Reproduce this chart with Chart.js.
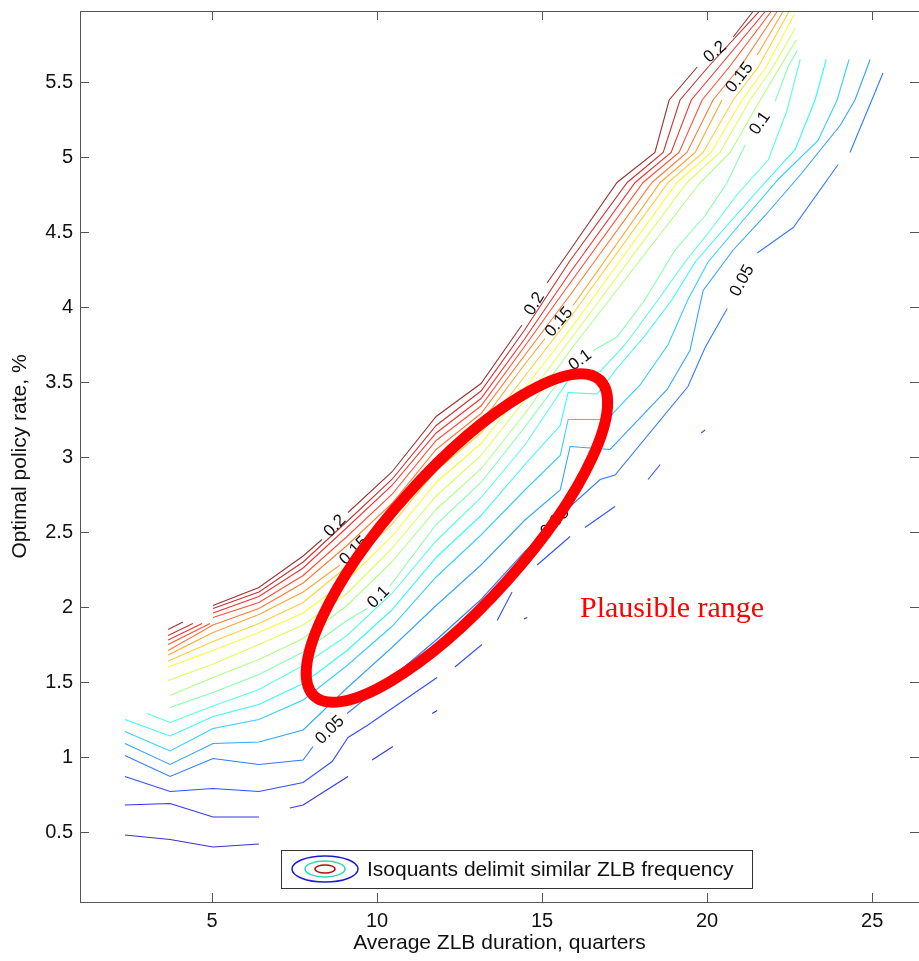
<!DOCTYPE html>
<html>
<head>
<meta charset="utf-8">
<script src="https://cdn.jsdelivr.net/npm/chart.js@4.4.0/dist/chart.umd.min.js"></script>
<style>
    html, body { margin: 0; padding: 0; background: #fff; }
</style>
</head>
<body>
<canvas id="dashboard" width="919" height="961"></canvas>
<script>
// eixos
const ticksX = [5, 10, 15, 20, 25];
const ticksY = [0.5, 1, 1.5, 2, 2.5, 3, 3.5, 4, 4.5, 5, 5.5];

// niveis das isoquantas (frequencia de ZLB)
const niveis = [0.02, 0.03, 0.04, 0.05, 0.06, 0.07, 0.08, 0.09, 0.10, 0.11, 0.12, 0.13, 0.14, 0.15, 0.16, 0.17, 0.18, 0.19, 0.20];

// cada isoquanta = lista de trechos [x, y]
const iso002 = [
    [[2.36, 0.48], [3.73, 0.45], [5.03, 0.40], [6.42, 0.42]]
];
const iso003 = [
    [[2.36, 0.68], [3.73, 0.69], [5.03, 0.60], [6.42, 0.60]],
    [[7.36, 0.66], [7.76, 0.68], [9.12, 0.87]],
    [[9.85, 0.98], [10.48, 1.07]],
    [[11.67, 1.29], [11.82, 1.31]],
    [[14.45, 1.92], [14.55, 1.93]]
];
const iso004 = [
    [[2.36, 0.87], [3.73, 0.77], [5.03, 0.79], [6.42, 0.77], [7.76, 0.83], [8.64, 0.97], [9.12, 1.13], [9.70, 1.21], [11.82, 1.53]],
    [[12.36, 1.60], [13.18, 1.75]],
    [[13.64, 1.91], [14.09, 2.10]],
    [[14.85, 2.28], [15.85, 2.47]],
    [[16.30, 2.53], [17.21, 2.67]],
    [[18.21, 2.85], [18.58, 2.95]],
    [[19.82, 3.16], [19.94, 3.18]]
];
const iso005 = [
    [[2.36, 1.01], [3.73, 0.87], [5.03, 0.99], [6.42, 0.95], [7.76, 0.98], [8.06, 1.07]],
    [[9.09, 1.29], [10.45, 1.53], [11.79, 1.78], [13.15, 2.05], [14.48, 2.37], [14.94, 2.46]],
    [[15.85, 2.67], [16.76, 2.85], [17.21, 2.88], [19.42, 3.47], [19.94, 3.73], [20.61, 3.99]],
    [[21.52, 4.36], [22.61, 4.53], [23.97, 4.95]],
    [[24.33, 5.03], [25.33, 5.56]]
];
const iso006 = [
    [[2.36, 1.09], [3.73, 0.95], [5.03, 1.09], [6.42, 1.10], [7.76, 1.18], [9.09, 1.46], [10.45, 1.73], [11.79, 2.01], [13.15, 2.28], [14.48, 2.58], [15.55, 2.78], [15.85, 3.07], [17.06, 3.05], [18.79, 3.45], [19.48, 3.71], [19.88, 4.11], [20.79, 4.38], [21.76, 4.61], [22.82, 4.88], [24.03, 5.21], [24.48, 5.38], [24.94, 5.65]]
];
const iso007 = [
    [[2.36, 1.17], [3.73, 1.04], [5.03, 1.19], [6.42, 1.25], [7.76, 1.38], [9.09, 1.61], [10.45, 1.87], [11.79, 2.20], [13.15, 2.48], [14.48, 2.78], [15.55, 3.01], [15.79, 3.25], [16.97, 3.25], [17.97, 3.48], [18.82, 3.75], [19.42, 4.05], [20.03, 4.30], [21.06, 4.57], [22.15, 4.85], [23.36, 5.11], [23.94, 5.38], [24.30, 5.65]]
];
const iso008 = [
    [[2.36, 1.25], [3.73, 1.14], [5.03, 1.27], [6.42, 1.35], [7.76, 1.49], [9.09, 1.71], [10.45, 1.98], [11.79, 2.33], [13.15, 2.61], [14.48, 2.95], [15.55, 3.21], [15.79, 3.43], [16.67, 3.42], [17.27, 3.59], [18.12, 3.81], [18.94, 4.05], [19.64, 4.30], [20.55, 4.53], [21.55, 4.78], [22.67, 5.05], [23.27, 5.38], [23.61, 5.65]]
];
const iso009 = [
    [[3.03, 1.29], [3.73, 1.23], [5.03, 1.34], [6.42, 1.45], [7.76, 1.61], [9.09, 1.81], [10.45, 2.09], [11.79, 2.44], [13.15, 2.73], [14.48, 3.08], [15.85, 3.53], [16.76, 3.57], [17.52, 3.75], [18.52, 4.05], [19.33, 4.30], [20.09, 4.51], [20.91, 4.75], [21.85, 4.98], [22.42, 5.31], [22.82, 5.65]]
];
const iso010 = [
    [[3.73, 1.33], [5.03, 1.43], [6.42, 1.55], [7.76, 1.70], [9.09, 1.91], [9.70, 1.99]],
    [[10.39, 2.14], [11.79, 2.55], [13.15, 2.83], [14.48, 3.20], [15.76, 3.58]],
    [[16.55, 3.71], [17.27, 3.80], [18.12, 4.05], [19.03, 4.38], [19.94, 4.61], [20.61, 4.83], [21.15, 5.08]],
    [[22.06, 5.37], [22.45, 5.60], [22.73, 5.71]]
];
const iso011 = [
    [[3.73, 1.41], [5.03, 1.53], [6.42, 1.65], [7.76, 1.79], [9.09, 2.01], [10.45, 2.30], [11.79, 2.65], [13.15, 2.92], [14.48, 3.29], [15.85, 3.71], [19.79, 4.83], [20.70, 5.03], [21.61, 5.38], [22.21, 5.60], [22.70, 5.78]]
];
const iso012 = [
    [[3.67, 1.51], [5.03, 1.62], [6.42, 1.75], [7.76, 1.88], [9.09, 2.09], [10.45, 2.39], [11.79, 2.74], [13.15, 3.01], [14.48, 3.38], [15.85, 3.78], [19.39, 4.83], [20.39, 5.03], [21.30, 5.38], [22.00, 5.60], [22.67, 5.86]]
];
const iso013 = [
    [[3.67, 1.60], [5.03, 1.71], [6.42, 1.83], [7.76, 1.96], [9.09, 2.18], [10.45, 2.47], [11.79, 2.83], [13.15, 3.09], [14.48, 3.46], [15.85, 3.85], [19.09, 4.83], [20.12, 5.03], [21.06, 5.38], [21.79, 5.60], [22.64, 5.95]]
];
const iso014 = [
    [[3.67, 1.64], [5.03, 1.77], [6.42, 1.89], [7.76, 2.03], [9.09, 2.27], [10.45, 2.55], [11.79, 2.91], [13.15, 3.16], [14.48, 3.54], [15.85, 3.93], [18.82, 4.83], [19.88, 5.03], [20.79, 5.38], [21.55, 5.60], [22.48, 5.97]]
];
const iso015 = [
    [[3.67, 1.68], [5.03, 1.83], [6.42, 1.95], [7.76, 2.10], [8.88, 2.28]],
    [[9.73, 2.47], [10.45, 2.63], [11.79, 2.98], [13.15, 3.23], [14.48, 3.62], [15.09, 3.79]],
    [[15.94, 4.01], [18.58, 4.83], [19.64, 5.03], [20.45, 5.38]],
    [[21.52, 5.68], [22.30, 5.97]]
];
const iso016 = [
    [[3.67, 1.71], [5.03, 1.88], [6.42, 1.99], [7.76, 2.16], [9.09, 2.41], [10.45, 2.69], [11.79, 3.05], [13.15, 3.29], [14.48, 3.68], [15.85, 4.08], [18.33, 4.83], [19.39, 5.03], [20.18, 5.38], [21.00, 5.60], [22.12, 5.97]]
];
const iso017 = [
    [[3.67, 1.75], [4.94, 1.89]],
    [[5.03, 1.93], [6.42, 2.03], [7.76, 2.21], [9.09, 2.47], [10.45, 2.75], [11.79, 3.11], [13.15, 3.34], [14.48, 3.74], [15.85, 4.16], [18.06, 4.83], [19.15, 5.03], [19.85, 5.38], [20.67, 5.60], [21.94, 5.97]]
];
const iso018 = [
    [[3.67, 1.78], [4.70, 1.89]],
    [[5.03, 1.96], [6.42, 2.07], [7.76, 2.26], [9.09, 2.53], [10.45, 2.81], [11.79, 3.16], [13.15, 3.39], [14.48, 3.79], [15.85, 4.23], [17.82, 4.83], [18.91, 5.03], [19.52, 5.38], [20.36, 5.60], [21.76, 5.97]]
];
const iso019 = [
    [[3.67, 1.81], [4.42, 1.89]],
    [[5.03, 1.99], [6.42, 2.10], [7.76, 2.30], [9.09, 2.57], [10.45, 2.85], [11.79, 3.21], [13.15, 3.44], [14.48, 3.85], [15.85, 4.31], [17.58, 4.83], [18.67, 5.03], [19.18, 5.38], [20.03, 5.60], [21.58, 5.97]]
];
const iso020 = [
    [[3.67, 1.85], [4.12, 1.90]],
    [[5.03, 2.01], [6.42, 2.13], [7.76, 2.34], [8.33, 2.45]],
    [[9.12, 2.63], [10.45, 2.90], [11.79, 3.27], [13.15, 3.49], [14.39, 3.88]],
    [[15.15, 4.16], [15.85, 4.38], [17.27, 4.83], [18.42, 5.03], [18.85, 5.38], [19.70, 5.60]],
    [[20.79, 5.80], [21.39, 5.97]]
];

const linhas = [iso002, iso003, iso004, iso005, iso006, iso007, iso008, iso009, iso010, iso011,
    iso012, iso013, iso014, iso015, iso016, iso017, iso018, iso019, iso020];

// rotulos: nivel e trecho apos o qual o texto fica
const rotulos = [
    { nivel: 0.05, apos: 0 }, { nivel: 0.05, apos: 1 }, { nivel: 0.05, apos: 2 },
    { nivel: 0.10, apos: 0 }, { nivel: 0.10, apos: 1 }, { nivel: 0.10, apos: 2 },
    { nivel: 0.15, apos: 0 }, { nivel: 0.15, apos: 1 }, { nivel: 0.15, apos: 2 },
    { nivel: 0.20, apos: 1 }, { nivel: 0.20, apos: 2 }, { nivel: 0.20, apos: 3 }
];

// faixa plausivel (elipse) e texto
const faixaCentro = [12.42, 2.46];
const faixaTexto = [16.15, 1.93];

const corMin = 0.01;
const corMax = 0.20;

function jet(v) {
    let t = (v - corMin) / (corMax - corMin);
    let f = function (c) { return Math.max(0, Math.min(1, 1.5 - Math.abs(4 * t - c))); };
    return `rgba(${Math.round(255 * f(3))}, ${Math.round(255 * f(2))}, ${Math.round(255 * f(1))}, 0.8)`;
}

let datasets = [];
for (let i = 0; i < linhas.length; i++) {
    let pontos = [];
    let trechos = linhas[i];
    for (let j = 0; j < trechos.length; j++) {
        if (j > 0) {
            pontos.push({ x: trechos[j][0][0], y: null });
        }
        for (let k = 0; k < trechos[j].length; k++) {
            pontos.push({ x: trechos[j][k][0], y: trechos[j][k][1] });
        }
    }
    datasets.push({
        label: String(niveis[i]),
        data: pontos,
        showLine: true,
        borderColor: jet(niveis[i]),
        borderWidth: 1.1,
        pointRadius: 0,
        spanGaps: false,
        tension: 0
    });
}

const textosContorno = {
    id: 'textosContorno',
    afterDatasetsDraw(chart) {
        const ctx = chart.ctx;
        const sx = chart.scales.x;
        const sy = chart.scales.y;
        ctx.save();
        ctx.fillStyle = '#111';
        ctx.font = "17px 'Liberation Sans', Arial, sans-serif";
        ctx.textAlign = 'center';
        ctx.textBaseline = 'middle';
        for (let r of rotulos) {
            let idx = niveis.findIndex(n => Math.abs(n - r.nivel) < 1e-9);
            let trechos = linhas[idx];
            let a = trechos[r.apos][trechos[r.apos].length - 1];
            let b = trechos[r.apos + 1][0];
            let ax = sx.getPixelForValue(a[0]), ay = sy.getPixelForValue(a[1]);
            let bx = sx.getPixelForValue(b[0]), by = sy.getPixelForValue(b[1]);
            let ang = Math.atan2(by - ay, bx - ax);
            ctx.save();
            ctx.translate((ax + bx) / 2, (ay + by) / 2);
            ctx.rotate(ang);
            ctx.fillText(String(r.nivel), 0, 0);
            ctx.restore();
        }

        // elipse vermelha
        let cx = sx.getPixelForValue(faixaCentro[0]);
        let cy = sy.getPixelForValue(faixaCentro[1]);
        ctx.beginPath();
        ctx.ellipse(cx, cy, 213, 66, -48 * Math.PI / 180, 0, 2 * Math.PI);
        ctx.strokeStyle = '#ff0000';
        ctx.lineWidth = 11;
        ctx.stroke();

        ctx.fillStyle = '#ff0000';
        ctx.font = "30px 'Liberation Serif', 'Times New Roman', serif";
        ctx.textAlign = 'left';
        ctx.textBaseline = 'alphabetic';
        ctx.fillText('Plausible range', sx.getPixelForValue(faixaTexto[0]), sy.getPixelForValue(faixaTexto[1]));
        ctx.restore();
    }
};

const moldura = {
    id: 'moldura',
    afterDraw(chart) {
        const ctx = chart.ctx;
        const a = chart.chartArea;
        const sx = chart.scales.x;
        const sy = chart.scales.y;
        ctx.save();
        ctx.strokeStyle = '#555';
        ctx.lineWidth = 1;
        ctx.strokeRect(a.left + 0.5, a.top + 0.5, a.right - a.left, a.bottom - a.top);
        ctx.beginPath();
        sx.ticks.forEach(function (t) {
            let px = Math.round(sx.getPixelForValue(t.value)) + 0.5;
            ctx.moveTo(px, a.bottom); ctx.lineTo(px, a.bottom - 9);
            ctx.moveTo(px, a.top); ctx.lineTo(px, a.top + 9);
        });
        sy.ticks.forEach(function (t) {
            let py = Math.round(sy.getPixelForValue(t.value)) + 0.5;
            ctx.moveTo(a.left, py); ctx.lineTo(a.left + 9, py);
            ctx.moveTo(a.right, py); ctx.lineTo(a.right - 9, py);
        });
        ctx.stroke();

        // legenda
        let lx = a.left + 201, ly = a.bottom - 52, lw = 471, lh = 38;
        ctx.fillStyle = '#fff';
        ctx.fillRect(lx, ly, lw, lh);
        ctx.strokeStyle = '#333';
        ctx.strokeRect(lx + 0.5, ly + 0.5, lw, lh);
        let ix = lx + 44, iy = ly + 19;
        ctx.lineWidth = 1.5;
        ctx.beginPath(); ctx.ellipse(ix, iy, 33, 13, 0, 0, 2 * Math.PI); ctx.strokeStyle = '#1a1acc'; ctx.stroke();
        ctx.beginPath(); ctx.ellipse(ix, iy, 20, 8, 0, 0, 2 * Math.PI); ctx.strokeStyle = '#2ed8b0'; ctx.stroke();
        ctx.beginPath(); ctx.ellipse(ix, iy, 10, 4, 0, 0, 2 * Math.PI); ctx.strokeStyle = '#b01010'; ctx.stroke();
        ctx.fillStyle = '#111';
        ctx.font = "21px 'Liberation Sans', Arial, sans-serif";
        ctx.textAlign = 'left';
        ctx.textBaseline = 'middle';
        ctx.fillText('Isoquants delimit similar ZLB frequency', lx + 86, iy + 1);
        ctx.restore();
    }
};

Chart.defaults.font.family = "'Liberation Sans', Arial, sans-serif";
Chart.defaults.color = '#111';

const config = {
    type: 'scatter',
    data: { datasets: datasets },
    options: {
        responsive: false,
        animation: false,
        devicePixelRatio: 1,
        layout: { padding: { top: 11, right: 0, left: 0, bottom: 0 } },
        plugins: {
            legend: { display: false },
            tooltip: { enabled: false }
        },
        scales: {
            x: {
                type: 'linear',
                min: 1.0,
                max: 26.42,
                grid: { display: false, drawTicks: false },
                border: { display: false },
                ticks: { font: { size: 20 }, color: '#111', padding: 7, maxRotation: 0, autoSkip: false,
                    callback: function (v) { return String(v); } },
                afterBuildTicks: function (s) { s.ticks = ticksX.map(v => ({ value: v })); },
                afterFit: function (s) { s.height = 59; s.paddingLeft = 0; s.paddingRight = 0; },
                title: { display: true, text: 'Average ZLB duration, quarters', font: { size: 21 }, color: '#111', padding: { top: 0, bottom: 5 } }
            },
            y: {
                type: 'linear',
                min: 0.0333,
                max: 5.9733,
                grid: { display: false, drawTicks: false },
                border: { display: false },
                ticks: { font: { size: 20 }, color: '#111', padding: 7, autoSkip: false,
                    callback: function (v) { return String(v); } },
                afterBuildTicks: function (s) { s.ticks = ticksY.map(v => ({ value: v })); },
                afterFit: function (s) { s.width = 80; s.paddingTop = 0; s.paddingBottom = 0; },
                title: { display: true, text: 'Optimal policy rate, %', font: { size: 21 }, color: '#111', padding: { top: 8, bottom: 0 } }
            }
        }
    },
    plugins: [textosContorno, moldura]
};

let grafico = new Chart(document.getElementById('dashboard'), config);
console.log('area:', grafico.chartArea);
</script>
</body>
</html>
